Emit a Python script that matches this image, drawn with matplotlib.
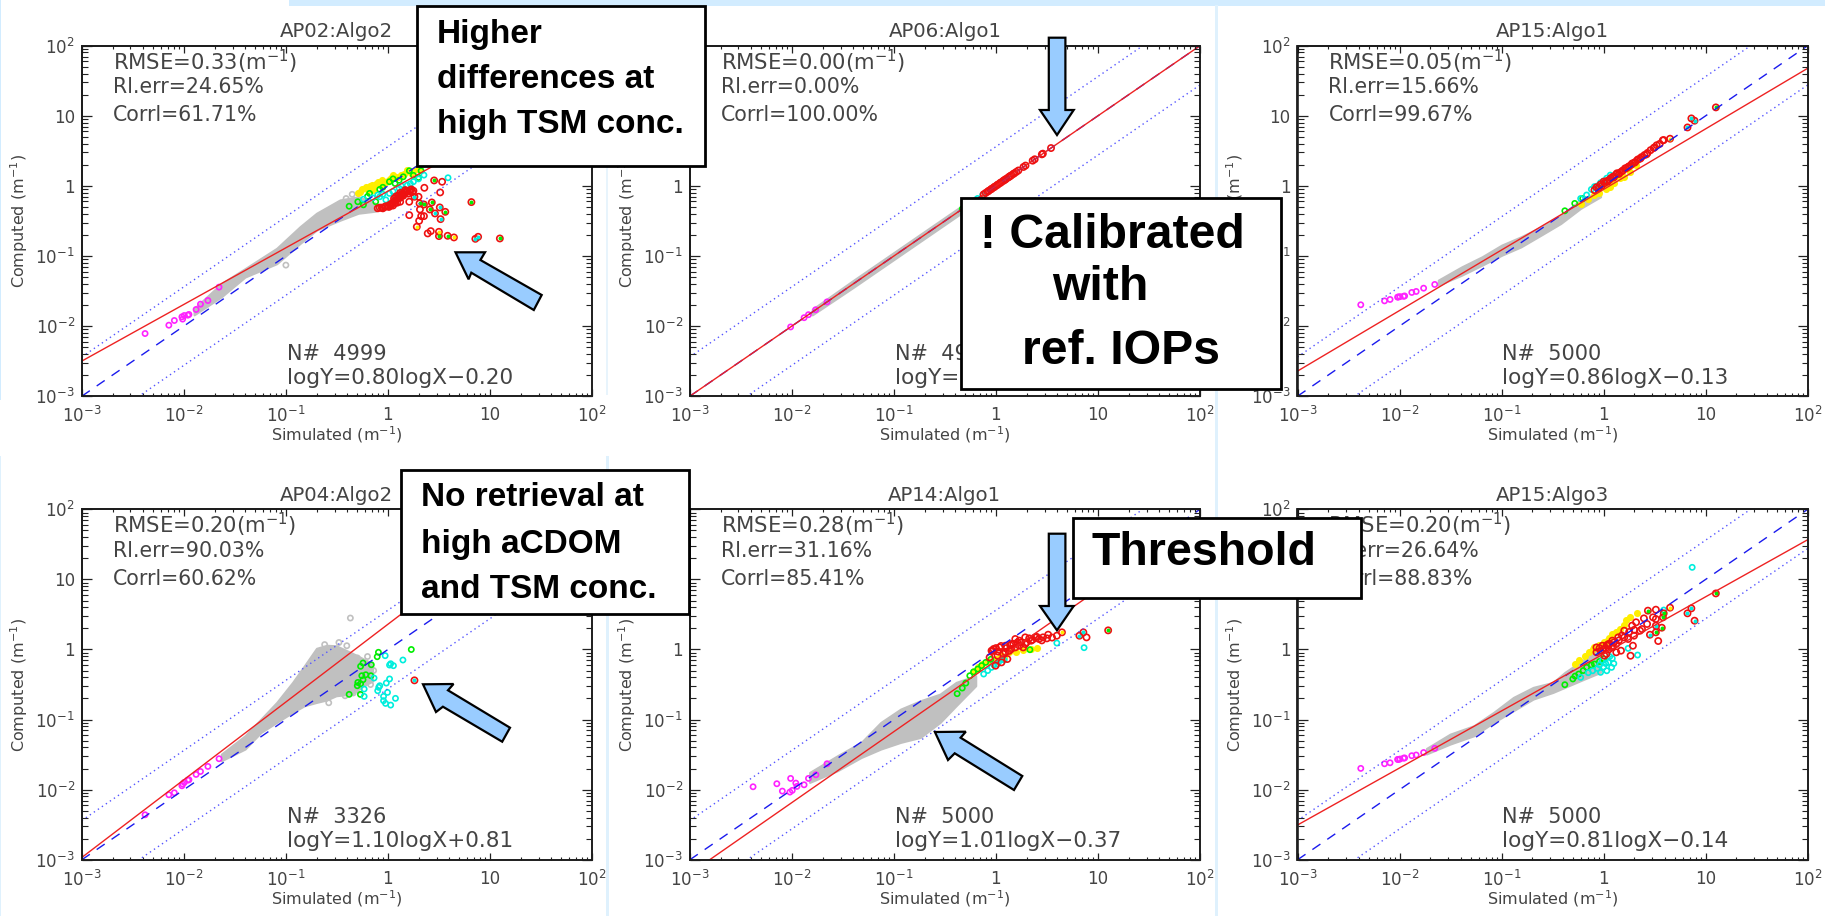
import matplotlib
matplotlib.use("Agg")
import matplotlib.pyplot as plt
from matplotlib.patches import Polygon, Rectangle
from matplotlib.ticker import FixedLocator, NullFormatter, FixedFormatter
from matplotlib.transforms import Affine2D
import numpy as np

plt.rcParams['mathtext.default'] = 'regular'
plt.rcParams['font.family'] = ['DejaVu Sans']

W, H = 1825, 916
TICK_LABELS = ['$10^{-3}$', '$10^{-2}$', '$10^{-1}$', '1', '10', '$10^{2}$']
TITLES = ['AP02:Algo2', 'AP06:Algo1', 'AP15:Algo1', 'AP04:Algo2', 'AP14:Algo1', 'AP15:Algo3']
RMSE = ['0.33', '0.00', '0.05', '0.20', '0.28', '0.20']
RLERR = ['24.65', '0.00', '15.66', '90.03', '31.16', '26.64']
CORRL = ['61.71', '100.00', '99.67', '60.62', '85.41', '88.83']
NCOUNT = ['4999', '49', '5000', '3326', '5000', '5000']
FIT_TEXT = ['logY=0.80logX-0.20', 'logY=', 'logY=0.86logX-0.13',
            'logY=1.10logX+0.81', 'logY=1.01logX-0.37', 'logY=0.81logX-0.14']
# drawn red regression lines (slope, intercept in log10)
FIT_SLOPE = [0.808, 1.0, 0.864, 1.109, 1.0125, 0.814]
FIT_ICEPT = [-0.075, 0.0, -0.05, 0.36, -0.159, -0.062]
BAND = 0.56

# all series values are log10 of the plotted values
MAG_X = [-2.38, -2.147, -2.093, -2.019, -2.012, -1.996, -1.961, -1.95, -1.88, -1.837, -1.764, -1.655]
MAG_Y1 = [-2.106, -1.987, -1.92, -1.868, -1.90, -1.849, -1.844, -1.834, -1.763, -1.687, -1.635, -1.444]
MAG_Y3 = [-1.696, -1.64, -1.62, -1.587, -1.585, -1.58, -1.575, -1.57, -1.52, -1.506, -1.459, -1.406]
MAG_Y4 = [-2.358, -2.072, -2.044, -1.944, -1.92, -1.896, -1.863, -1.858, -1.782, -1.74, -1.668, -1.558]
MAG_Y5 = [-1.958, -1.915, -2.02, -2.034, -1.839, -2.01, -1.906, -1.953, -1.93, -1.839, -1.787, -1.63]
MAG_Y6 = [-1.696, -1.63, -1.616, -1.568, -1.57, -1.563, -1.55, -1.547, -1.515, -1.505, -1.47, -1.41]
MAG_X2 = [-2.012, -1.88, -1.837, -1.767, -1.655]

# grey clouds: x, upper, lower
G1_X = [-1.90, -1.63, -1.40, -1.09, -0.86, -0.70, -0.47, -0.29, -0.12]
G1_U = [-1.75, -1.39, -1.18, -0.89, -0.58, -0.39, -0.20, -0.155, -0.25]
G1_L = [-1.84, -1.58, -1.30, -1.11, -0.82, -0.63, -0.49, -0.39, -0.36]
G2_X = [-1.8, -1.4, -1.0, -0.6, -0.2]
G2_U = [-1.76, -1.35, -0.95, -0.55, -0.15]
G2_L = [-1.84, -1.45, -1.05, -0.65, -0.25]
G3_X = [-1.62, -1.39, -1.19, -1.0, -0.81, -0.61, -0.42, -0.225, -0.03]
G3_U = [-1.344, -1.154, -1.01, -0.845, -0.726, -0.583, -0.417, -0.2, -0.06]
G3_L = [-1.416, -1.273, -1.13, -0.99, -0.87, -0.70, -0.536, -0.32, -0.155]
G4_X = [-1.632, -1.40, -1.244, -1.09, -0.934, -0.818, -0.70, -0.6, -0.508, -0.353, -0.237, -0.15]
G4_U = [-1.492, -1.23, -0.992, -0.755, -0.469, -0.231, 0.017, 0.06, 0.054, -0.05, -0.136, -0.2]
G4_L = [-1.587, -1.42, -1.183, -1.04, -0.897, -0.802, -0.755, -0.72, -0.66, -0.636, -0.517, -0.45]
G5_X = [-1.826, -1.554, -1.32, -1.128, -0.934, -0.74, -0.547, -0.39, -0.198]
G5_U = [-1.754, -1.516, -1.325, -1.04, -0.85, -0.731, -0.636, -0.469, -0.374]
G5_L = [-1.896, -1.73, -1.54, -1.42, -1.325, -1.254, -1.04, -0.802, -0.517]
G6_X = [-1.736, -1.504, -1.271, -1.078, -0.884, -0.69, -0.496, -0.38, -0.186, -0.03]
G6_U = [-1.411, -1.207, -1.087, -0.897, -0.683, -0.54, -0.469, -0.326, -0.136, 0.054]
G6_L = [-1.49, -1.349, -1.23, -1.04, -0.873, -0.707, -0.612, -0.54, -0.42, -0.326]

GO1_X = [-0.47, -0.41, -0.35, -1.0]
GO1_Y = [-0.26, -0.18, -0.12, -1.13]
GO4_X = [-0.368, -0.48, -0.403, -0.62, -0.30, -0.25, -0.34, -0.42, -0.58, -0.2, -0.14, -0.17, -0.28]
GO4_Y = [0.449, 0.10, 0.054, 0.07, -0.12, -0.30, -0.62, -0.66, -0.76, -0.1, -0.3, -0.5, -0.58]

Y1_X = [-0.295, -0.217, -0.16, -0.10, -0.02, 0.07, 0.19, 0.31, -0.27, -0.08, 0.015, 0.13, -0.14, 0.23,
        -0.25, -0.2, -0.12, -0.05, 0.03, 0.1, 0.16, 0.25, 0.28, -0.18, -0.06, 0.05]
Y1_Y = [-0.10, -0.022, 0.01, 0.06, 0.06, 0.13, 0.225, 0.225, -0.08, 0.01, 0.08, 0.154, -0.06, 0.18,
        -0.05, -0.06, 0.03, 0.03, 0.11, 0.12, 0.17, 0.21, 0.24, 0.0, 0.08, 0.15]
GR1_X = [-0.38, -0.295, -0.18, -0.08, 0.015, 0.07, 0.21, 0.325, -0.24, -0.12, 0.11, -0.2, -0.05, 0.05, 0.15, 0.25, 0.3]
GR1_Y = [-0.29, -0.226, -0.107, -0.05, 0.06, 0.035, 0.216, 0.216, -0.27, -0.226, 0.08, -0.15, -0.02, 0.1, 0.13, 0.15, 0.12]
C1_X = [-0.24, -0.08, 0.015, 0.11, 0.19, 0.25, 0.353, 0.07, -0.02, 0.589, -0.15, -0.05, 0.05, 0.13, 0.22, 0.3, -0.1, 0.16]
C1_Y = [-0.19, -0.155, -0.107, -0.035, 0.01, 0.06, 0.154, -0.155, -0.2, 0.116, -0.17, -0.12, -0.08, 0.0, 0.03, 0.1, -0.13, -0.05]
R1_X = [1.097, 0.884, 0.857, 0.818, 0.647, 0.585, 0.5, 0.5, 0.42, 0.39, 0.562, 0.508, 0.516, 0.461, 0.411, 0.43,
        0.353, 0.353, 0.31, 0.314, 0.283, 0.306, 0.209, 0.326, 0.453, 0.531, 0.512, 0.357, 0.26, 0.209, 0.12, 0.3,
        -0.1, -0.06, -0.03, 0.0, 0.02, 0.04, 0.06, 0.03, 0.08, 0.1, 0.13, 0.16, 0.18, 0.2, 0.22, 0.15, 0.12, 0.17, 0.1, 0.24,
        -0.08, -0.05, -0.02, 0.01, 0.03, 0.05, 0.07, 0.09, 0.11, 0.14, 0.17, 0.19, 0.21, 0.23, 0.25, 0.06, 0.08, 0.12]
R1_Y = [-0.75, -0.726, -0.755, -0.231, -0.735, -0.712, -0.655, -0.716, -0.645, -0.678, -0.37, -0.307, -0.474, -0.393, -0.336, -0.236,
        -0.431, -0.265, -0.25, -0.336, -0.583, -0.498, -0.417, -0.431, 0.078, 0.059, -0.093, -0.027, -0.155, -0.226, -0.226, -0.155,
        -0.32, -0.31, -0.30, -0.29, -0.27, -0.25, -0.22, -0.28, -0.20, -0.14, -0.12, -0.09, -0.08, -0.11, -0.06, -0.14, -0.17, -0.06, -0.18, -0.09,
        -0.31, -0.32, -0.29, -0.30, -0.26, -0.28, -0.24, -0.24, -0.16, -0.13, -0.10, -0.07, -0.08, -0.05, -0.07, -0.18, -0.15, -0.10]
R1_IN = 'gccgygyg..gcccgg.gg.y...g...c.....'

R2_X = [-0.12, -0.1, -0.08, -0.07, -0.05, -0.04, -0.02, -0.01, 0.01, 0.02, 0.04, 0.05, 0.07, 0.08, 0.09, 0.1, 0.12, 0.13,
        0.14, 0.15, 0.17, 0.18, 0.2, 0.22, 0.27, 0.29, 0.36, 0.38, 0.45, 0.46, 0.54]
C2_X = [-0.22, -0.18, -0.13]
GR2_X = [-0.33, -0.26]

Y3_X = [-0.225, -0.09, 0.065, 0.163, 0.318, -0.15, -0.05, 0.02, 0.1, 0.2, 0.26]
Y3_Y = [-0.26, -0.13, -0.01, 0.107, 0.297, -0.19, -0.1, -0.05, 0.04, 0.13, 0.2]
GR3_X = [-0.38, -0.283, -0.205]
GR3_Y = [-0.355, -0.25, -0.18]
C3_X = [-0.225, -0.167, -0.09, -0.03, 0.065, -0.12, -0.06, 0.0, 0.03, 0.1]
C3_Y = [-0.18, -0.13, -0.01, 0.045, 0.154, -0.05, 0.0, 0.07, 0.11, 0.14]
R3_X = [1.10, 0.891, 0.86, 0.822, 0.651, 0.589, -0.09, -0.05, -0.02, 0.01, 0.04, 0.07, 0.1, 0.13, 0.16, 0.19, 0.22, 0.25, 0.28, 0.31, 0.34, 0.37, 0.4, 0.43, 0.46, 0.49, 0.52, 0.55, 0.58,
        -0.07, -0.03, 0.0, 0.03, 0.06, 0.09, 0.12, 0.15, 0.18, 0.21, 0.24, 0.27, 0.3, 0.33, 0.36, 0.42, 0.5]
R3_Y = [1.12, 0.93, 0.963, 0.834, 0.673, 0.654, -0.06, -0.03, 0.0, 0.04, 0.06, 0.11, 0.12, 0.18, 0.19, 0.22, 0.25, 0.28, 0.32, 0.34, 0.38, 0.41, 0.44, 0.47, 0.51, 0.54, 0.58, 0.60, 0.65,
        -0.02, 0.02, 0.06, 0.07, 0.09, 0.13, 0.16, 0.17, 0.21, 0.25, 0.27, 0.30, 0.33, 0.37, 0.39, 0.45, 0.55]
R3_IN = 'gcccy.'

GR4_X = [-0.38, -0.27, -0.30, -0.295, -0.268, -0.256, -0.244, -0.268, -0.244, -0.217, -0.167, -0.163, -0.105, -0.093]
GR4_Y = [-0.64, -0.64, -0.517, -0.47, -0.49, -0.374, -0.431, -0.24, -0.193, -0.36, -0.374, -0.217, -0.103, -0.04]
C4_X = [-0.233, -0.233, -0.136, -0.10, -0.09, -0.08, -0.027, -0.016, 0.016, -0.004, -0.043, -0.043, -0.023, 0.027, 0.074, 0.016, 0.027, 0.054, 0.147]
C4_Y = [-0.669, -0.564, -0.407, -0.588, -0.54, -0.517, -0.088, -0.479, -0.42, -0.612, -0.669, -0.73, -0.769, -0.793, -0.697, -0.222, -0.203, -0.231, -0.15]
GRY4_X = [0.229]
GRY4_Y = [0.0]
R4_X = [0.26]
R4_Y = [-0.44]
R4_IN = 'c'

Y5_X = [0.132, 0.345, -0.217, -0.14, -0.004, 0.05, -0.18, -0.08, 0.08, 0.2, 0.27, 0.4]
Y5_Y = [-0.04, 0.007, -0.303, -0.207, -0.136, -0.08, -0.25, -0.16, -0.1, -0.03, -0.01, 0.02]
GR5_X = [-0.38, -0.295, -0.256, -0.178, -0.1, 0.333, -0.33, -0.22, -0.14, -0.05]
GR5_Y = [-0.63, -0.479, -0.374, -0.279, -0.184, -0.003, -0.55, -0.32, -0.23, -0.14]
C5_X = [0.597, 0.864, 0.081, 0.016, -0.043, -0.12, 0.03, 0.06, -0.02, -0.08]
C5_Y = [0.092, 0.026, -0.15, -0.207, -0.255, -0.35, -0.17, -0.14, -0.22, -0.3]
R5_X = [1.10, 0.888, 0.818, 0.857, 0.647, 0.597, 0.512, 0.461, 0.384, 0.326, 0.287, 0.229, 0.19, 0.151, 0.093, 0.035, -0.023, -0.062, -0.004, -0.043, 0.016, 0.093, 0.151, 0.229, 0.287, 0.345, 0.422, 0.5, 0.112, 0.054, 0.19, 0.267,
        0.0, 0.05, 0.1, 0.14, 0.17, 0.21, 0.25, 0.3, 0.36, 0.4, 0.45, 0.55, -0.03, 0.02, 0.07, 0.13]
R5_Y = [0.273, 0.173, 0.197, 0.245, 0.245, 0.197, 0.211, 0.173, 0.173, 0.159, 0.173, 0.126, 0.15, 0.078, 0.054, 0.03, 0.007, -0.113, -0.231, -0.017, -0.088, -0.04, 0.007, 0.054, 0.078, 0.126, 0.15, 0.159, -0.136, -0.184, 0.03, 0.03,
        0.02, 0.05, 0.02, 0.06, 0.08, 0.1, 0.1, 0.1, 0.14, 0.18, 0.13, 0.17, -0.02, -0.03, -0.06, -0.02]
R5_IN = 'g.ccy'

Y6_X = [-0.283, -0.186, -0.09, 0.008, 0.163, 0.26, 0.326, 0.085, -0.24, -0.14, -0.05, 0.05, 0.12, 0.2, 0.22, 0.03, -0.1]
Y6_Y = [-0.207, -0.088, 0.03, 0.1, 0.292, 0.459, 0.52, 0.22, -0.15, -0.04, 0.06, 0.16, 0.25, 0.35, 0.42, 0.12, 0.0]
GR6_X = [-0.38, -0.302, -0.244, -0.167, -0.09, -0.28, -0.2, -0.12, -0.04, 0.0]
GR6_Y = [-0.502, -0.42, -0.35, -0.255, -0.207, -0.38, -0.3, -0.22, -0.17, -0.13]
C6_X = [-0.225, -0.108, -0.03, 0.031, 0.078, 0.085, -0.012, 0.047, 0.24, 0.333, 0.868, 0.589, -0.15, -0.06, 0.0, 0.02, 0.06, 0.1, -0.04]
C6_Y = [-0.398, -0.303, -0.326, -0.303, -0.255, -0.127, -0.16, -0.184, 0.016, -0.079, 1.172, 0.563, -0.33, -0.27, -0.25, -0.2, -0.1, -0.2, -0.22]
R6_X = [1.10, 0.891, 0.86, 0.822, 0.651, 0.589, 0.581, 0.535, 0.57, 0.512, 0.512, 0.454, 0.434, 0.512, 0.484, 0.395, 0.512, 0.426, 0.376, 0.279, 0.318, 0.287, 0.264, 0.124, 0.17, 0.202, 0.202, 0.143, 0.085, 0.047, -0.012, -0.07, -0.03, 0.027, 0.124, 0.24, 0.298, 0.357, 0.008, 0.085, -0.07,
        0.0, 0.03, 0.06, 0.1, 0.15, 0.05, -0.04, 0.02, 0.09, 0.18, 0.25, 0.3]
R6_Y = [0.80, 0.411, 0.587, 0.516, 0.597, 0.516, 0.459, 0.121, 0.311, 0.34, 0.245, 0.211, 0.554, 0.568, 0.459, 0.444, 0.435, 0.364, 0.292, 0.34, 0.388, 0.054, -0.089, -0.04, -0.017, 0.268, 0.173, 0.173, 0.126, 0.078, 0.054, -0.04, -0.017, -0.064, 0.078, 0.15, 0.197, 0.268, -0.088, 0.03, 0.03,
        0.0, 0.06, 0.08, 0.1, 0.13, 0.0, 0.02, 0.02, 0.05, 0.2, 0.25, 0.28]
R6_IN = 'gcccygg.gcgcg.'

PANELS = [
    dict(mx=MAG_X, my=MAG_Y1, g=(G1_X, G1_U, G1_L), go=(GO1_X, GO1_Y), y=(Y1_X, Y1_Y), gr=(GR1_X, GR1_Y), c=(C1_X, C1_Y), r=(R1_X, R1_Y), inn=R1_IN),
    dict(mx=MAG_X2, my=MAG_X2, g=(G2_X, G2_U, G2_L), go=([], []), y=([], []), gr=(GR2_X, GR2_X), c=(C2_X, C2_X), r=(R2_X, R2_X), inn=''),
    dict(mx=MAG_X, my=MAG_Y3, g=(G3_X, G3_U, G3_L), go=([], []), y=(Y3_X, Y3_Y), gr=(GR3_X, GR3_Y), c=(C3_X, C3_Y), r=(R3_X, R3_Y), inn=R3_IN),
    dict(mx=MAG_X, my=MAG_Y4, g=(G4_X, G4_U, G4_L), go=(GO4_X, GO4_Y), y=([], []), gr=(GR4_X + GRY4_X, GR4_Y + GRY4_Y), c=(C4_X, C4_Y), r=(R4_X, R4_Y), inn=R4_IN),
    dict(mx=MAG_X, my=MAG_Y5, g=(G5_X, G5_U, G5_L), go=([], []), y=(Y5_X, Y5_Y), gr=(GR5_X, GR5_Y), c=(C5_X, C5_Y), r=(R5_X, R5_Y), inn=R5_IN),
    dict(mx=MAG_X, my=MAG_Y6, g=(G6_X, G6_U, G6_L), go=([], []), y=(Y6_X, Y6_Y), gr=(GR6_X, GR6_Y), c=(C6_X, C6_Y), r=(R6_X, R6_Y), inn=R6_IN),
]

LEFTS = [81.8, 689.8, 1297.5, 81.8, 689.8, 1297.5]
TOPS = [45.7, 45.7, 45.7, 509.3, 509.3, 509.3]
AW, AH = 510.2, 350.5
INK = '#444444'
EDGE = '#222222'
GREY = '#c0c0c0'
INNER = {'g': '#00ee00', 'c': '#00eedd', 'y': '#ffee00'}
ARROW = '#99ccff'

fig = plt.figure(figsize=(W / 100, H / 100), dpi=100, facecolor='white')
PX = Affine2D().scale(1 / W, -1 / H).translate(0, 1) + fig.transFigure

for (x0, y0, w, h, col) in [(289, 0, W - 289, 5.7, '#d2ecff'), (1215, 5, 3.5, H, '#dff1fd'),
                            (606, 165, 2.5, 230, '#e8f4fc'), (606, 456, 3, 460, '#dff1fd'),
                            (0, 0, 1.5, 400, '#d2ecff'), (0, 456, 1.5, 460, '#dff1fd')]:
    fig.add_artist(Rectangle((x0, y0), w, h, fc=col, ec='none', transform=PX, zorder=0))

for i, p in enumerate(PANELS):
    L, T = LEFTS[i], TOPS[i]
    rect = [L / W, 1 - (T + AH) / H, AW / W, AH / H]

    # data layer
    ax = fig.add_axes(rect, zorder=1)
    ax.set_xscale('log'); ax.set_yscale('log')
    ax.set_xlim(1e-3, 1e2); ax.set_ylim(1e-3, 1e2)
    ax.set_axis_off()

    ends = np.array([-3.0, 2.0])
    ax.plot(10.0 ** ends, 10.0 ** ends, color='#1a1aee', lw=1.0, ls=(0, (7, 6)), zorder=12)
    ax.plot(10.0 ** ends, 10.0 ** (ends + BAND), color='#5555ff', lw=1.0, ls=(0, (1, 2.5)), zorder=12)
    ax.plot(10.0 ** ends, 10.0 ** (ends - BAND), color='#5555ff', lw=1.0, ls=(0, (1, 2.5)), zorder=12)
    ax.plot(10.0 ** ends, 10.0 ** (FIT_SLOPE[i] * ends + FIT_ICEPT[i]), color='#ee2222', lw=1.0, zorder=12)

    gx, gu, gl = (np.array(v) for v in p['g'])
    ax.fill_between(10.0 ** gx, 10.0 ** gl, 10.0 ** gu, color=GREY, lw=1.5, zorder=2)
    ring = dict(facecolors='none', s=14, linewidths=1.2)
    ax.scatter(10.0 ** np.array(p['go'][0]), 10.0 ** np.array(p['go'][1]), edgecolors=GREY, zorder=3, **ring)
    ax.scatter(10.0 ** np.array(p['mx']), 10.0 ** np.array(p['my']), edgecolors='#ff22ff', zorder=7, **ring)
    ax.scatter(10.0 ** np.array(p['y'][0]), 10.0 ** np.array(p['y'][1]), color='#ffee00', s=26, lw=0, zorder=7)
    ax.scatter(10.0 ** np.array(p['gr'][0]), 10.0 ** np.array(p['gr'][1]), edgecolors='#00ee00', zorder=8, **ring)
    ax.scatter(10.0 ** np.array(p['c'][0]), 10.0 ** np.array(p['c'][1]), edgecolors='#00eedd', zorder=8, **ring)
    rx, ry = 10.0 ** np.array(p['r'][0]), 10.0 ** np.array(p['r'][1])
    ax.scatter(rx, ry, edgecolors='#ee1111', zorder=9, **{**ring, 's': 20})
    for k, ch in enumerate(p['inn']):
        if ch in INNER:
            ax.scatter(rx[k], ry[k], color=INNER[ch], s=8, lw=0, zorder=10)

    # frame layer: ticks and labels
    fr = fig.add_axes(rect, zorder=2)
    fr.patch.set_visible(False)
    fr.set_xscale('log'); fr.set_yscale('log')
    fr.set_xlim(1e-3, 1e2); fr.set_ylim(1e-3, 1e2)
    maj = [1e-3, 1e-2, 1e-1, 1, 10, 100]
    mins = [m * d for d in maj[:-1] for m in range(2, 10)]
    for a in (fr.xaxis, fr.yaxis):
        a.set_major_locator(FixedLocator(maj))
        a.set_major_formatter(FixedFormatter(TICK_LABELS))
        a.set_minor_locator(FixedLocator(mins))
        a.set_minor_formatter(NullFormatter())
    fr.tick_params(axis='x', which='major', direction='in', top=True, length=5, width=0.9, color=EDGE, labelcolor=INK, labelsize=12, pad=7)
    fr.tick_params(axis='x', which='minor', direction='in', top=True, length=2.5, width=0.8, color=EDGE)
    fr.tick_params(axis='y', which='major', direction='in', right=True, length=7.5, width=0.9, color=EDGE, labelcolor=INK, labelsize=12, pad=5)
    fr.tick_params(axis='y', which='minor', direction='in', right=True, length=4, width=0.8, color=EDGE)
    for name, sp in fr.spines.items():
        sp.set_color('#111111' if name in ('top', 'left') else '#555555')
        sp.set_linewidth(1.1)
    fr.set_xlabel('Simulated (m$^{-1}$)', color=INK, fontsize=11.5, labelpad=-1)
    fr.set_ylabel('Computed (m$^{-1}$)', color=INK, fontsize=11.5, labelpad=3.5)
    fr.set_title(TITLES[i], color=INK, fontsize=14.2, pad=6)

    # panel outline at figure level, the same way the callout boxes are drawn
    fig.add_artist(Rectangle((L, T), AW, AH, fc='none', ec='#1a1a1a', lw=1.3, transform=PX, zorder=3))

    def put(px, py, s, size):
        fr.text(px / AW, 1 - py / AH, s, transform=fr.transAxes, color=INK, fontsize=size, va='center', ha='left', zorder=13)
    put(31, 16, 'RMSE=%s(m$^{-1}$)' % RMSE[i], 15.2)
    put(31, 41.5, 'Rl.err=%s%%' % RLERR[i], 14.8)
    put(31, 69.5, 'Corrl=%s%%' % CORRL[i], 14.8)
    put(205, 308, 'N#  %s' % NCOUNT[i], 15)
    put(205, 332, FIT_TEXT[i].replace('-', '\u2212'), 15.6)

boxes = [(416.8, 5.7, 705, 165.7), (960.6, 197.7, 1281, 389.3), (401, 470, 689, 613.7), (1073, 518, 1361, 597.7)]
arrows = [
    [(455.5, 252.3), (485, 252.3), (480.4, 260), (541.7, 295), (533.8, 310), (471.3, 272.7), (468.6, 279.3)],
    [(1057, 135), (1040, 110), (1048.8, 110), (1048.8, 37.7), (1065.4, 37.7), (1065.4, 110), (1073.7, 110)],
    [(423, 684.3), (453.5, 684), (448, 690.3), (510, 727.7), (502.2, 741.7), (442.9, 706.7), (436, 712)],
    [(1057, 630.3), (1040, 606), (1048.8, 606), (1048.8, 533.7), (1065.4, 533.7), (1065.4, 606), (1073.7, 606)],
    [(934.9, 732), (965.8, 731.7), (960.6, 737.7), (1022.3, 776), (1014, 790), (954.7, 753.3), (948, 760)],
]
for a in arrows:
    fig.add_artist(Polygon(a, closed=True, fc=ARROW, ec='black', lw=1.6, transform=PX, zorder=4))
for (x0, y0, x1, y1) in boxes:
    fig.add_artist(Rectangle((x0, y0), x1 - x0, y1 - y0, fc='white', ec='black', lw=2, transform=PX, zorder=5))

t = dict(family='Liberation Sans', fontweight='bold', color='black', zorder=6, va='center', ha='left', transform=PX)
for x, y, s in [(437, 35, 'Higher'), (437, 79, 'differences at'), (437, 125, 'high TSM conc.')]:
    fig.text(x, y, s, fontsize=24, **t)
for x, y, s in [(980, 235, '! Calibrated'), (1052, 288, 'with'), (1022, 351, 'ref. IOPs')]:
    fig.text(x, y, s, fontsize=34.7, **t)
for x, y, s in [(421, 497, 'No retrieval at'), (421, 545, 'high aCDOM'), (421, 590, 'and TSM conc.')]:
    fig.text(x, y, s, fontsize=24, **t)
fig.text(1092, 553, 'Threshold', fontsize=33.5, **t)

fig.savefig('out.png', dpi=100)
